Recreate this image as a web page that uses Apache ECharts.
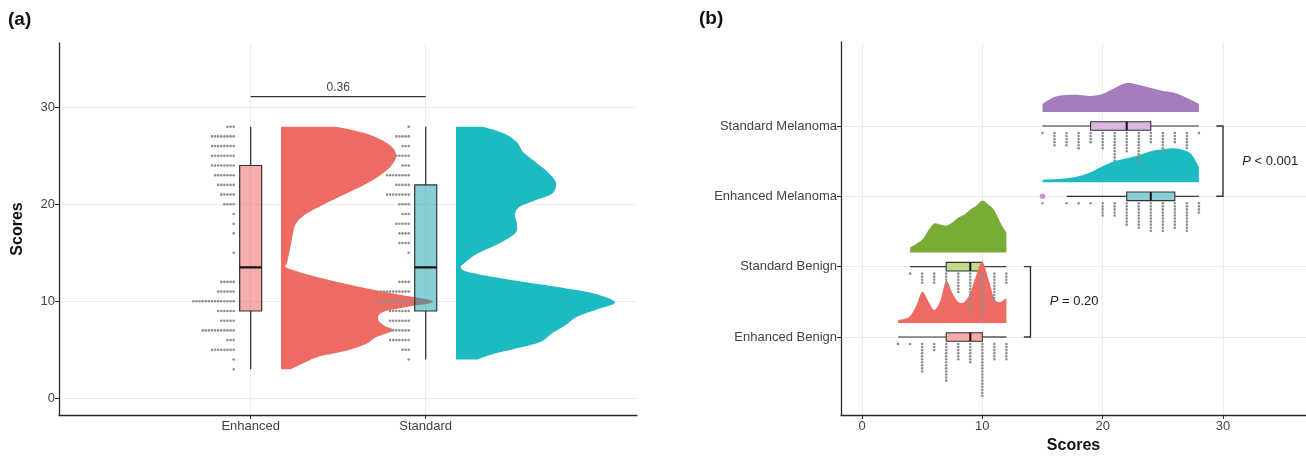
<!DOCTYPE html>
<html><head><meta charset="utf-8">
<script src="https://cdn.jsdelivr.net/npm/echarts@6/dist/echarts.min.js"></script>
<style>html,body{margin:0;padding:0;background:#fff}#c{width:1306px;height:459px}</style>
</head><body><div id="c"></div><script>
// ================= DATA: panel (a) =================
const groupsA = ['Enhanced', 'Standard'];
const yTicksA = [0, 10, 20, 30];
// box stats [min, q1, median, q3, max]
const boxEnhancedA = [3, 9, 13.5, 24, 28];
const boxStandardA = [4, 9, 13.5, 22, 28];
// dot plot (score level -> number of dots)
const dotScoresEnhancedA = [3,4,5,6,7,8,9,10,11,12,15,17,18,19,20,21,22,23,24,25,26,27,28];
const dotCountsEnhancedA = [1,1,8,3,11,5,6,14,6,5,1,1,1,1,4,5,6,7,8,8,8,8,3];
const dotScoresStandardA = [4,5,6,7,8,9,10,11,12,15,16,17,18,19,20,21,22,23,24,25,26,27,28];
const dotCountsStandardA = [1,3,7,7,7,7,11,10,4,1,4,4,5,3,4,8,5,8,3,5,3,5,1];
// half-violin density profiles (relative density)
const violinScoresEnhancedA = [3.0,3.6,4.3,4.9,5.6,6.3,7.0,7.5,8.2,8.9,9.4,10.0,10.8,11.5,12.2,12.9,13.5,13.9,14.9,15.9,17.0,18.0,19.0,20.1,21.1,22.1,23.2,24.2,25.2,26.25,27.3,28.0];
const violinDensityEnhancedA = [0.10,0.22,0.38,0.65,0.85,0.95,1.12,1.03,0.97,1.02,1.25,1.52,1.12,0.78,0.48,0.22,0.05,0.06,0.08,0.10,0.12,0.15,0.25,0.45,0.65,0.85,1.02,1.12,1.15,1.07,0.85,0.55];
const violinScoresStandardA = [4.0,4.6,5.1,5.8,6.7,7.5,8.4,9.2,9.9,10.8,11.5,12.2,13.0,13.5,13.9,14.9,15.9,17.0,17.9,18.9,19.7,20.4,21.1,22.2,23.3,24.4,25.4,26.4,27.3,28.0];
const violinDensityStandardA = [0.21,0.38,0.59,0.84,0.96,1.09,1.21,1.42,1.59,1.38,1.00,0.55,0.13,0.05,0.08,0.21,0.42,0.59,0.61,0.59,0.63,0.79,0.96,1.00,0.92,0.79,0.67,0.61,0.48,0.27];
const pairA = ['Enhanced', 'Standard'];
const pairValueA = 31.1;
const pairLabelA = '0.36';

// ================= DATA: panel (b) =================
const groupsB = ['Enhanced Benign', 'Standard Benign', 'Enhanced Melanoma', 'Standard Melanoma'];
const xTicksB = [0, 10, 20, 30];
const boxEBb = [3, 7, 9, 10, 12];
const boxSBb = [4, 7, 9, 10, 12];
const boxEMb = [17, 22, 24, 26, 28];
const boxSMb = [15, 19, 22, 24, 28];
const outlierEMb = [15];
const dotScoresEBb = [3,4,5,6,7,8,9,10,11,12];
const dotCountsEBb = [1,1,10,3,13,6,7,18,6,6];
const dotScoresSBb = [4,5,6,7,8,9,10,11,12];
const dotCountsSBb = [1,4,4,5,7,13,14,10,4];
const dotScoresEMb = [15,17,18,19,20,21,22,23,24,25,26,27,28];
const dotCountsEMb = [1,1,1,1,5,5,8,9,10,10,9,10,4];
const dotScoresSMb = [15,16,17,18,19,20,21,22,23,24,25,26,27,28];
const dotCountsSMb = [1,5,5,6,4,6,10,7,10,4,7,4,6,1];
const violinScoresEBb = [3,3.5,4,4.5,5,5.5,6,6.5,7,7.5,8,8.5,9,9.5,10,10.5,11,11.5,12];
const violinDensityEBb = [0.03,0.04,0.07,0.17,0.31,0.22,0.13,0.22,0.42,0.30,0.21,0.21,0.30,0.48,0.61,0.44,0.24,0.21,0.25];
const violinScoresSBb = [4,5,5.5,6,6.5,7,7.5,8,8.5,9,9.5,10,10.5,11,11.5,12];
const violinDensitySBb = [0.05,0.13,0.22,0.29,0.28,0.27,0.30,0.35,0.38,0.43,0.47,0.52,0.48,0.42,0.30,0.20];
const violinScoresEMb = [15,16,17,18,19,20,21,22,23,24,25,26,27,27.5,28];
const violinDensityEMb = [0.025,0.03,0.04,0.06,0.10,0.16,0.21,0.24,0.27,0.31,0.33,0.34,0.31,0.26,0.15];
const violinScoresSMb = [15,16,17,18,19,20,21,22,23,24,25,26,27,28];
const violinDensitySMb = [0.08,0.15,0.17,0.17,0.16,0.18,0.24,0.29,0.27,0.24,0.21,0.19,0.14,0.08];
const bracketsB = [ // [group from, group to, x position, label]
  [3, 4, 30, 'P < 0.001'],
  [1, 2, 14, 'P = 0.20']
];

// ================= STYLE / LAYOUT =================
const FONT = '"Liberation Sans", Arial, sans-serif';
const AXIS_COL = '#2b2b2b', TEXT_COL = '#444', GRID_COL = '#ececec', DOT_COL = '#8f8f8f';
const DENS_PX = 100;
const DOT_R = 1.3;
const violinsA = [
  {scores: violinScoresEnhancedA, dens: violinDensityEnhancedA, color: '#EE6B63'},
  {scores: violinScoresStandardA, dens: violinDensityStandardA, color: '#1BBBC1'}
];
const boxesA = [
  {s: boxEnhancedA, fill: 'rgba(235,90,90,0.5)'},
  {s: boxStandardA, fill: 'rgba(16,160,170,0.5)'}
];
const dotsA = [[dotScoresEnhancedA, dotCountsEnhancedA], [dotScoresStandardA, dotCountsStandardA]];
const violinsB = [
  {scores: violinScoresEBb, dens: violinDensityEBb, color: '#EE6B63'},
  {scores: violinScoresSBb, dens: violinDensitySBb, color: '#79AC37'},
  {scores: violinScoresEMb, dens: violinDensityEMb, color: '#1BBBC1'},
  {scores: violinScoresSMb, dens: violinDensitySMb, color: '#A57CBD'}
];
const boxesB = [
  {s: boxEBb, fill: '#F4AAA9'},
  {s: boxSBb, fill: '#BDDA8D'},
  {s: boxEMb, fill: '#87CED5'},
  {s: boxSMb, fill: '#DAB7E2'}
];
const dotsB = [[dotScoresEBb, dotCountsEBb], [dotScoresSBb, dotCountsSBb], [dotScoresEMb, dotCountsEMb], [dotScoresSMb, dotCountsSMb]];

function smoothPts(pts, n) {
  const out = [];
  for (let i = 0; i < pts.length - 1; i++) {
    const p0 = pts[Math.max(i - 1, 0)], p1 = pts[i], p2 = pts[i + 1], p3 = pts[Math.min(i + 2, pts.length - 1)];
    for (let t = 0; t < n; t++) {
      const s = t / n, s2 = s * s, s3 = s2 * s;
      const f = k => 0.5 * (2 * p1[k] + (-p0[k] + p2[k]) * s + (2 * p0[k] - 5 * p1[k] + 4 * p2[k] - p3[k]) * s2 + (-p0[k] + 3 * p1[k] - 3 * p2[k] + p3[k]) * s3);
      out.push([f(0), f(1)]);
    }
  }
  out.push(pts[pts.length - 1]);
  return out;
}

// ---- panel (a) renderers ----
const VIOLIN_OFF_A = 0.173;
function renderViolinA(params, api) {
  const g = api.value(0), V = violinsA[g];
  const xb = g + 1 + VIOLIN_OFF_A;
  const curve = V.scores.map((s, i) => { const p = api.coord([xb, s]); return [p[0] + V.dens[i] * DENS_PX, p[1]]; });
  const b0 = api.coord([xb, V.scores[0]]), b1 = api.coord([xb, V.scores[V.scores.length - 1]]);
  return {type: 'polygon', shape: {points: [b0].concat(smoothPts(curve, 8), [b1])}, style: {fill: V.color}};
}
function renderDotsA(params, api) {
  const g = api.value(0), score = api.value(1), n = api.value(2);
  const c = api.coord([g + 1, score]);
  const children = [];
  for (let i = 0; i < n; i++) children.push({type: 'circle', shape: {cx: c[0] - 17 - i * 3.1, cy: c[1], r: DOT_R}, style: {fill: DOT_COL}});
  return {type: 'group', children};
}
function renderBoxA(params, api) {
  const g = api.value(0), s = boxesA[g].s;
  const P = v => api.coord([g + 1, v]);
  const h = 11, x = P(s[0])[0];
  const lo = P(s[0]), q1 = P(s[1]), md = P(s[2]), q3 = P(s[3]), hi = P(s[4]);
  const ls = {stroke: '#333', lineWidth: 1.3};
  return {type: 'group', children: [
    {type: 'line', shape: {x1: x, y1: lo[1], x2: x, y2: q1[1]}, style: ls},
    {type: 'line', shape: {x1: x, y1: q3[1], x2: x, y2: hi[1]}, style: ls},
    {type: 'rect', shape: {x: x - h, y: q3[1], width: 2 * h, height: q1[1] - q3[1]}, style: {fill: boxesA[g].fill, stroke: '#333', lineWidth: 1.2}},
    {type: 'line', shape: {x1: x - h, y1: md[1], x2: x + h, y2: md[1]}, style: {stroke: '#111', lineWidth: 2.2}}
  ]};
}
function renderPairA(params, api) {
  const a = api.coord([1, pairValueA]), b = api.coord([2, pairValueA]);
  return {type: 'group', children: [
    {type: 'line', shape: {x1: a[0], y1: a[1], x2: b[0], y2: b[1]}, style: {stroke: '#333', lineWidth: 1.3}},
    {type: 'text', x: (a[0] + b[0]) / 2, y: a[1] - 3, style: {text: pairLabelA, font: '12px ' + FONT, fill: TEXT_COL, align: 'center', verticalAlign: 'bottom'}}
  ]};
}

// ---- panel (b) renderers ----
const VIOLIN_OFF_B = 0.2;
function renderViolinB(params, api) {
  const g = api.value(0), V = violinsB[g];
  const yb = g + 1 + VIOLIN_OFF_B;
  const curve = V.scores.map((s, i) => { const p = api.coord([s, yb]); return [p[0], p[1] - V.dens[i] * DENS_PX]; });
  const b0 = api.coord([V.scores[0], yb]), b1 = api.coord([V.scores[V.scores.length - 1], yb]);
  return {type: 'polygon', shape: {points: [b0].concat(smoothPts(curve, 8), [b1])}, style: {fill: V.color}};
}
function renderDotsB(params, api) {
  const it = dotItemsB[params.dataIndex];
  const score = it[0], g = it[1], n = it[2];
  const c = api.coord([score, g + 1]);
  const children = [];
  for (let i = 0; i < n; i++) children.push({type: 'circle', shape: {cx: c[0], cy: c[1] + 7 + i * 3.05, r: DOT_R}, style: {fill: DOT_COL}});
  return {type: 'group', children};
}
function renderBoxB(params, api) {
  const g = api.value(0), s = boxesB[g].s;
  const P = v => api.coord([v, g + 1]);
  const h = 4.3, y = P(s[0])[1];
  const lo = P(s[0]), q1 = P(s[1]), md = P(s[2]), q3 = P(s[3]), hi = P(s[4]);
  const ls = {stroke: '#333', lineWidth: 1.2};
  return {type: 'group', children: [
    {type: 'line', shape: {x1: lo[0], y1: y, x2: q1[0], y2: y}, style: ls},
    {type: 'line', shape: {x1: q3[0], y1: y, x2: hi[0], y2: y}, style: ls},
    {type: 'rect', shape: {x: q1[0], y: y - h, width: q3[0] - q1[0], height: 2 * h}, style: {fill: boxesB[g].fill, stroke: '#333', lineWidth: 1.1}},
    {type: 'line', shape: {x1: md[0], y1: y - h, x2: md[0], y2: y + h}, style: {stroke: '#111', lineWidth: 2}}
  ]};
}
function renderBracketB(params, api) {
  const b = bracketsB[params.dataIndex];
  const top = api.coord([b[2], b[1]]), bot = api.coord([b[2], b[0]]);
  const tip = api.coord([b[2] - 0.55, b[1]])[0];
  const lab = api.coord([b[2] + 1.6, (b[0] + b[1]) / 2]);
  const ls = {stroke: '#333', lineWidth: 1.4};
  const parts = b[3].split('P');
  return {type: 'group', children: [
    {type: 'polyline', shape: {points: [[tip, top[1]], [top[0], top[1]], [bot[0], bot[1]], [tip, bot[1]]]}, style: Object.assign({fill: null}, ls)},
    {type: 'text', x: lab[0], y: lab[1], style: {text: '{i|P}' + parts[1], font: '13px ' + FONT, fill: '#222', align: 'left', verticalAlign: 'middle',
      rich: {i: {fontStyle: 'italic', fontSize: 13, fontFamily: FONT, fill: '#222'}}}}
  ]};
}

// ---- data items built from arrays ----
const dotItemsA = [];
dotsA.forEach((d, g) => d[0].forEach((s, i) => dotItemsA.push([g, s, d[1][i]])));
const dotItemsB = [];
dotsB.forEach((d, g) => d[0].forEach((s, i) => dotItemsB.push([s, g, d[1][i]])));

const chart = echarts.init(document.getElementById('c'));
const axisLineStyle = {show: true, onZero: false, lineStyle: {color: AXIS_COL, width: 1.3}};
const tickStyle = {length: 4, lineStyle: {color: AXIS_COL, width: 1}};
chart.setOption({
  animation: false,
  textStyle: {fontFamily: FONT},
  graphic: [
    {type: 'text', left: 8, top: 10, style: {text: '(a)', font: 'bold 19px ' + FONT, fill: '#111'}},
    {type: 'text', left: 699, top: 9, style: {text: '(b)', font: 'bold 19px ' + FONT, fill: '#111'}}
  ],
  grid: [
    {left: 59, top: 43, width: 578, height: 372},
    {left: 841, top: 42, width: 465, height: 373}
  ],
  xAxis: [
    {gridIndex: 0, type: 'value', min: -0.095, max: 3.207,
      axisLine: axisLineStyle,
      axisTick: Object.assign({show: true, customValues: [1, 2]}, tickStyle),
      axisLabel: {customValues: [1, 2], formatter: v => groupsA[Math.round(v) - 1], color: TEXT_COL, fontSize: 13, margin: 5},
      splitLine: {show: true, lineStyle: {color: GRID_COL, width: 1}}},
    {gridIndex: 1, type: 'value', min: -1.746, max: 36.9,
      name: 'Scores', nameLocation: 'middle', nameGap: 22,
      nameTextStyle: {fontWeight: 'bold', fontSize: 16, color: '#111', fontFamily: FONT},
      axisLine: axisLineStyle,
      axisTick: Object.assign({show: true, customValues: xTicksB}, tickStyle),
      axisLabel: {customValues: xTicksB, color: TEXT_COL, fontSize: 13, margin: 5},
      splitLine: {show: true, lineStyle: {color: GRID_COL, width: 1}}}
  ],
  yAxis: [
    {gridIndex: 0, type: 'value', min: -1.72, max: 36.63,
      name: 'Scores', nameLocation: 'middle', nameGap: 33,
      nameTextStyle: {fontWeight: 'bold', fontSize: 16, color: '#111', fontFamily: FONT},
      axisLine: axisLineStyle,
      axisTick: Object.assign({show: true, customValues: yTicksA}, tickStyle),
      axisLabel: {customValues: yTicksA, color: TEXT_COL, fontSize: 13, margin: 4},
      splitLine: {show: true, lineStyle: {color: GRID_COL, width: 1}}},
    {gridIndex: 1, type: 'value', min: -0.109, max: 5.194,
      axisLine: axisLineStyle,
      axisTick: Object.assign({show: true, customValues: [1, 2, 3, 4]}, tickStyle),
      axisLabel: {customValues: [1, 2, 3, 4], formatter: v => groupsB[Math.round(v) - 1], color: TEXT_COL, fontSize: 13, margin: 4},
      splitLine: {show: true, lineStyle: {color: GRID_COL, width: 1}}}
  ],
  series: [
    {type: 'custom', xAxisIndex: 0, yAxisIndex: 0, renderItem: renderViolinA, data: violinsA.map((v, i) => [i, 0]), z: 2, clip: false},
    {type: 'custom', xAxisIndex: 0, yAxisIndex: 0, renderItem: renderDotsA, data: dotItemsA, encode: {x: 0, y: 1}, z: 3, clip: false},
    {type: 'custom', xAxisIndex: 0, yAxisIndex: 0, renderItem: renderBoxA, data: boxesA.map((b, i) => [i, b.s[2]]), z: 4, clip: false},
    {type: 'custom', xAxisIndex: 0, yAxisIndex: 0, renderItem: renderPairA, data: [[1.5, pairValueA]], z: 4, clip: false},
    {type: 'custom', xAxisIndex: 1, yAxisIndex: 1, renderItem: renderBoxB, data: boxesB.map((b, i) => [i, b.s[2]]), z: 2, clip: false},
    {type: 'custom', xAxisIndex: 1, yAxisIndex: 1, renderItem: renderViolinB, data: violinsB.map((v, i) => [i, 0]), z: 3, clip: false},
    {type: 'custom', xAxisIndex: 1, yAxisIndex: 1, renderItem: renderDotsB, data: dotItemsB, encode: {x: 0, y: 1}, z: 4, clip: false},
    {type: 'scatter', xAxisIndex: 1, yAxisIndex: 1, data: outlierEMb.map(v => [v, 3]), symbolSize: 5.5, itemStyle: {color: '#B57BD1'}, z: 5},
    {type: 'custom', xAxisIndex: 1, yAxisIndex: 1, renderItem: renderBracketB, data: bracketsB.map(b => [b[2], b[0]]), z: 5, clip: false}
  ]
});
</script></body></html>
